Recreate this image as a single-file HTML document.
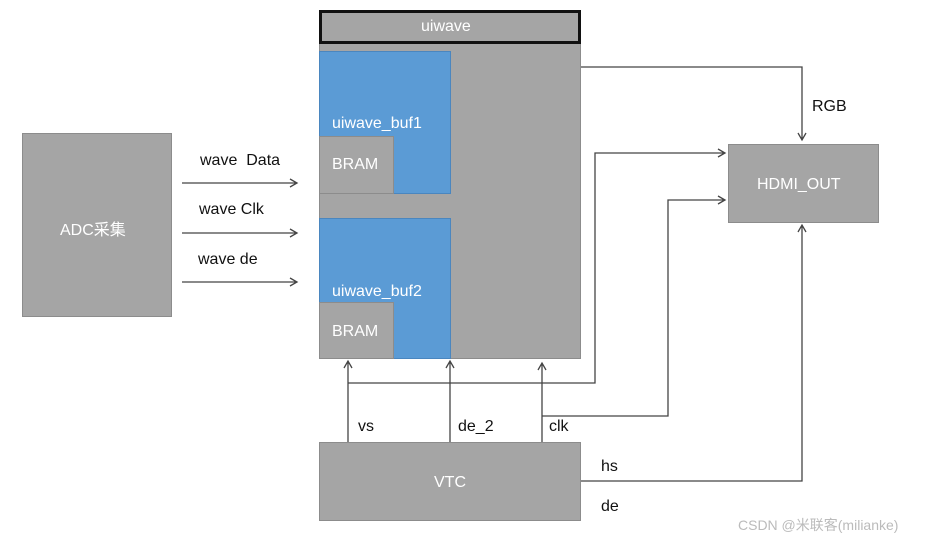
<!DOCTYPE html>
<html><head><style>
body{margin:0;width:935px;height:539px;background:#fff;overflow:hidden;position:relative;font-family:"Liberation Sans","Noto Sans CJK SC",sans-serif}
.b{position:absolute;box-sizing:border-box}
.g{background:#a5a5a5;border:1px solid #8c8c8c;color:#fff}
.t{position:absolute;font-size:16px;color:#111;white-space:nowrap}
.w{position:absolute;font-size:16px;color:#fff;white-space:nowrap}
</style></head><body>
<div class="b g" style="left:22px;top:133px;width:150px;height:184px"></div>
<div class="w" style="left:60px;top:216px">ADC采集</div>
<div class="b g" style="left:319px;top:42px;width:262px;height:317px"></div>
<div class="b" style="left:319px;top:10px;width:262px;height:34px;background:#a5a5a5;border:3px solid #111"></div>
<div class="w" style="left:421px;top:18px">uiwave</div>
<div class="b" style="left:319px;top:51px;width:132px;height:143px;background:#5b9bd5;border:1px solid #4a86bf"></div>
<div class="w" style="left:332px;top:115px">uiwave_buf1</div>
<div class="b g" style="left:319px;top:136px;width:75px;height:58px"></div>
<div class="w" style="left:332px;top:156px">BRAM</div>
<div class="b" style="left:319px;top:218px;width:132px;height:141px;background:#5b9bd5;border:1px solid #4a86bf"></div>
<div class="w" style="left:332px;top:283px">uiwave_buf2</div>
<div class="b g" style="left:319px;top:302px;width:75px;height:57px"></div>
<div class="w" style="left:332px;top:323px">BRAM</div>
<div class="b g" style="left:319px;top:442px;width:262px;height:79px"></div>
<div class="w" style="left:434px;top:474px">VTC</div>
<div class="b g" style="left:728px;top:144px;width:151px;height:79px"></div>
<div class="w" style="left:757px;top:176px">HDMI_OUT</div>
<svg class="b" style="left:0;top:0" width="935" height="539">
<g fill="none" stroke="#444" stroke-width="1.3">
<path d="M182 183H297M290 179l7 4-7 4M182 233H297M290 229l7 4-7 4M182 282H297M290 278l7 4-7 4"/>
<path d="M581 67H802V140M798 133l4 7 4-7"/>
<path d="M348 442V361M344 368l4-7 4 7M348 383H595V153H725M718 149l7 4-7 4"/>
<path d="M450 442V361M446 368l4-7 4 7"/>
<path d="M542 442V363M538 370l4-7 4 7M542 416H668V200H725M718 196l7 4-7 4"/>
<path d="M581 481H802V225M798 232l4-7 4 7"/>
</g></svg>
<div class="t" style="left:200px;top:152px">wave&nbsp; Data</div>
<div class="t" style="left:199px;top:201px">wave Clk</div>
<div class="t" style="left:198px;top:251px">wave de</div>
<div class="t" style="left:812px;top:98px">RGB</div>
<div class="t" style="left:358px;top:418px">vs</div>
<div class="t" style="left:458px;top:418px">de_2</div>
<div class="t" style="left:549px;top:418px">clk</div>
<div class="t" style="left:601px;top:458px">hs</div>
<div class="t" style="left:601px;top:498px">de</div>
<div class="t" style="left:738px;top:515px;font-size:14px;color:#bbb">CSDN @米联客(milianke)</div>
</body></html>
